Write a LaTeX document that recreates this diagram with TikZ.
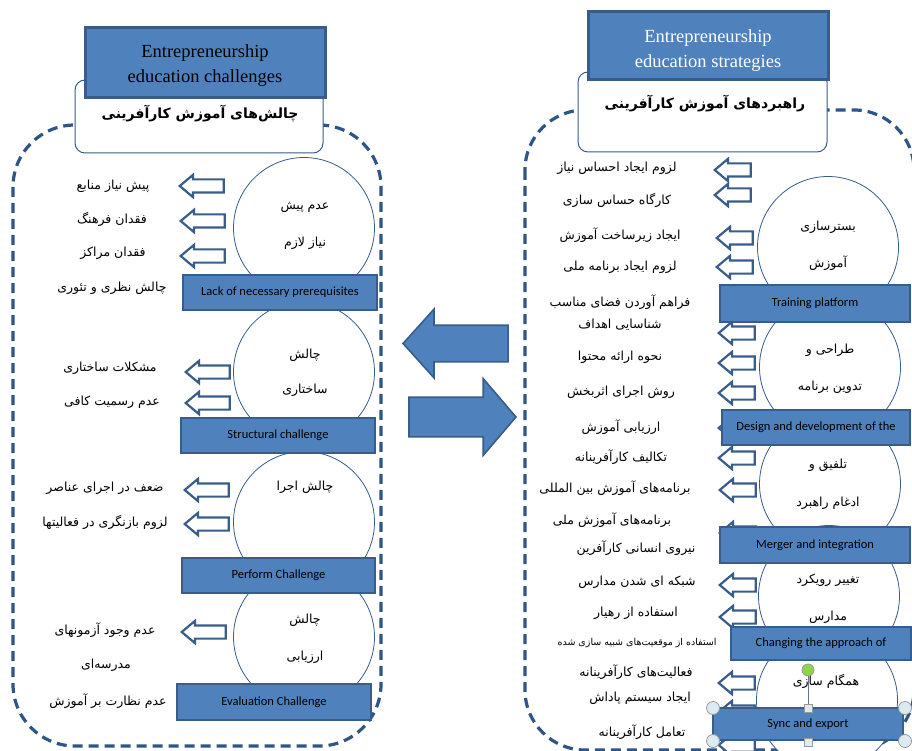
\documentclass[tikz,border=0pt]{standalone}
\usepackage{fontspec}
\setmainfont{Liberation Serif}
\newfontfamily\fafont[Script=Arabic]{DejaVu Sans}
\newfontfamily\calfont{Carlito}
\TeXXeTstate=1
\usetikzlibrary{shapes.arrows,shapes.geometric}
\definecolor{midblue}{HTML}{4F81BD}
\definecolor{dkblue}{HTML}{385D8A}
\definecolor{dashblue}{HTML}{2F5486}
\definecolor{hdlfill}{HTML}{DDEAF2}
\definecolor{hdlgreen}{HTML}{8ED44A}
\begin{document}
\begin{tikzpicture}[x=1pt,y=-1pt,
  panel/.style={draw=dashblue, line width=3.2pt, dash pattern=on 10pt off 6pt},
  circ/.style={circle, draw=dkblue, line width=0.8pt, fill=white, minimum size=141pt, inner sep=0pt},
  bluebox/.style={rectangle, draw=dkblue, line width=2pt, fill=midblue, inner sep=0pt, font=\calfont\fontsize{12.5}{14}\selectfont},
  titlebox/.style={rectangle, draw=dkblue, line width=3pt, fill=midblue, inner sep=0pt},
  titletext/.style={align=center, inner sep=0pt, font=\fontsize{18.5}{25}\selectfont},
  hbox/.style={rectangle, rounded corners=10pt, draw=dkblue, line width=1pt, fill=white, inner sep=0pt},
  sarrow/.style={single arrow, draw=dkblue, line width=2.2pt, fill=white, minimum height=36pt, single arrow head extend=4.5pt, single arrow tip angle=80, inner xsep=0pt, inner ysep=5.5pt, shape border rotate=180, anchor=tip},
  larrow/.style={sarrow, minimum height=44pt},
  bigarrow/.style={single arrow, draw=dkblue, line width=1.6pt, fill=midblue, inner xsep=0pt, anchor=tip},
  ptext/.style={font=\fafont\fontsize{12.5}{14}\selectfont, inner sep=0pt},
  htitle/.style={font=\fafont\bfseries\fontsize{14}{16}\selectfont, inner sep=0pt},
  handle/.style={circle, draw=gray!80, line width=0.8pt, fill=hdlfill, minimum size=13pt, inner sep=0pt},
  sqhandle/.style={rectangle, draw=gray!80, line width=0.8pt, fill=hdlfill, minimum size=8pt, inner sep=0pt}
]
\useasboundingbox (0,0) rectangle (912,751);
\clip (0,0) rectangle (912,751);
\fill[white] (0,0) rectangle (912,751);

% dashed panels
\draw[panel, rounded corners=62pt] (13,125) rectangle (381,746);
\draw[panel, rounded corners=60pt] (525,110) rectangle (914,750);

% header boxes
\node[hbox, minimum width=248pt, minimum height=73pt] (lhead) at (199,116.5) {};
\node[htitle] (lheadt) at (200,114) {\beginR چالش‌های آموزش کارآفرینی\endR};
\node[titlebox, minimum width=240pt, minimum height=70pt] (ltitle) at (205,63) {};
\node[titletext] (ltitlet) at (205,66) {Entrepreneurship\\education challenges};

\node[hbox, minimum width=249pt, minimum height=80pt] (rhead) at (702.5,112) {};
\node[htitle] (rheadt) at (705,104) {\beginR راهبردهای آموزش کارآفرینی\endR};
\node[titlebox, minimum width=240pt, minimum height=68pt] (rtitle) at (708,46) {};
\node[titletext, text=white] (rtitlet) at (708,51) {Entrepreneurship\\education strategies};

% big arrows
\node[bigarrow, shape border rotate=180, minimum height=105pt, inner ysep=17.5pt, single arrow head extend=16pt, single arrow tip angle=96] (bigL) at (402,343.5) {};
\node[bigarrow, minimum height=107pt, inner ysep=19pt, single arrow head extend=18.5pt, single arrow tip angle=99] (bigR) at (517,417) {};

% left circles
\node[circ] (lc1) at (304,228) {};
\node[circ] (lc2) at (304,372) {};
\node[circ] (lc3) at (304,522) {};
\node[circ] (lc4) at (304,637) {};

% right circles
\node[circ] (rc1) at (828,247) {};
\node[circ] (rc2) at (830,367) {};
\node[circ] (rc3) at (830,484) {};
\node[circ] (rc4) at (829,596) {};
\node[circ] (rc5) at (827,700) {};

% left small arrows
\node[larrow] (la1) at (178,186) {};
\node[larrow] (la2) at (179,221) {};
\node[larrow] (la3) at (179,256) {};
\node[larrow] (la4) at (184,372) {};
\node[larrow] (la5) at (184,403) {};
\node[larrow] (la6) at (183,490) {};
\node[larrow] (la7) at (183,524) {};
\node[larrow] (la8) at (180,632) {};

% right small arrows
\node[sarrow] (ra1) at (713,170) {};
\node[sarrow] (ra2) at (713,195) {};
\node[sarrow] (ra3) at (715,238) {};
\node[sarrow] (ra4) at (715,267) {};
\node[sarrow] (ra5) at (717,333) {};
\node[sarrow] (ra6) at (717,363) {};
\node[sarrow] (ra7) at (717,393) {};
\node[sarrow] (ra8) at (717,428) {};
\node[sarrow] (ra9) at (717,458) {};
\node[sarrow] (ra10) at (718,490) {};
\node[sarrow] (ra11) at (718,533) {};
\node[sarrow] (ra12) at (718,585) {};
\node[sarrow] (ra13) at (718,617) {};
\node[sarrow] (ra14) at (717,683) {};
\node[sarrow] (ra15) at (717,712) {};
\node[sarrow] (ra16) at (717,745) {};

% left blue boxes
\node[bluebox, minimum width=194pt, minimum height=35pt] (lb1) at (280,292.5) {Lack of necessary prerequisites};
\node[bluebox, minimum width=194pt, minimum height=35pt] (lb2) at (278,435.5) {Structural challenge};
\node[bluebox, minimum width=193pt, minimum height=35pt] (lb3) at (278.5,575.5) {Perform Challenge};
\node[bluebox, minimum width=194pt, minimum height=36pt] (lb4) at (274,702) {Evaluation Challenge};

% right blue boxes
\node[bluebox, minimum width=190pt, minimum height=37pt] (rb1) at (815,303.5) {Training platform};
\node[bluebox, minimum width=188pt, minimum height=35pt] (rb2) at (816,427.5) {Design and development of the};
\node[bluebox, minimum width=190pt, minimum height=36pt] (rb3) at (815,545) {Merger and integration};
\node[bluebox, minimum width=180pt, minimum height=33pt] (rb4) at (821,643.5) {Changing the approach of};
\node[bluebox, minimum width=190pt, minimum height=32pt] (rb5) at (808,724) {Sync and export};

% left circle texts
\node[ptext] (lct1) at (305,207) {\beginR عدم پیش\endR};
\node[ptext] (lct2) at (305,243) {\beginR نیاز لازم\endR};
\node[ptext] (lct3) at (305,355) {\beginR چالش\endR};
\node[ptext] (lct4) at (305,390) {\beginR ساختاری\endR};
\node[ptext] (lct5) at (305,487) {\beginR چالش اجرا\endR};
\node[ptext] (lct6) at (305,620) {\beginR چالش\endR};
\node[ptext] (lct7) at (305,657) {\beginR ارزیابی\endR};

% right circle texts
\node[ptext] (rct1) at (828,227) {\beginR بسترسازی\endR};
\node[ptext] (rct2) at (828,263) {\beginR آموزش\endR};
\node[ptext] (rct3) at (830,350) {\beginR طراحی و\endR};
\node[ptext] (rct4) at (830,387) {\beginR تدوین برنامه\endR};
\node[ptext] (rct5) at (828,465) {\beginR تلفیق و\endR};
\node[ptext] (rct6) at (828,503) {\beginR ادغام راهبرد\endR};
\node[ptext] (rct7) at (828,580) {\beginR تغییر رویکرد\endR};
\node[ptext] (rct8) at (828,617) {\beginR مدارس\endR};
\node[ptext] (rct9) at (826,681) {\beginR همگام سازی\endR};

% left texts
\node[ptext] (lt1) at (113,186) {\beginR پیش نیاز منابع\endR};
\node[ptext] (lt2) at (112,219) {\beginR فقدان فرهنگ\endR};
\node[ptext] (lt3) at (113,253) {\beginR فقدان مراکز\endR};
\node[ptext] (lt4) at (112,288) {\beginR چالش نظری و تئوری\endR};
\node[ptext] (lt5) at (110,368) {\beginR مشکلات ساختاری\endR};
\node[ptext] (lt6) at (112,402) {\beginR عدم رسمیت کافی\endR};
\node[ptext] (lt7) at (105,488) {\beginR ضعف در اجرای عناصر\endR};
\node[ptext] (lt8) at (105,522) {\beginR لزوم بازنگری در فعالیتها\endR};
\node[ptext] (lt9) at (105,630) {\beginR عدم وجود آزمونهای\endR};
\node[ptext] (lt10) at (106,665) {\beginR مدرسه‌ای\endR};
\node[ptext] (lt11) at (108,701) {\beginR عدم نظارت بر آموزش\endR};

% right texts
\node[ptext] (rt1) at (617,168) {\beginR لزوم ایجاد احساس نیاز\endR};
\node[ptext] (rt2) at (617,200) {\beginR کارگاه حساس سازی\endR};
\node[ptext] (rt3) at (620,235) {\beginR ایجاد زیرساخت آموزش\endR};
\node[ptext] (rt4) at (620,267) {\beginR لزوم ایجاد برنامه ملی\endR};
\node[ptext] (rt5) at (620,302) {\beginR فراهم آوردن فضای مناسب\endR};
\node[ptext] (rt6) at (620,325) {\beginR شناسایی اهداف\endR};
\node[ptext] (rt7) at (620,357) {\beginR نحوه ارائه محتوا\endR};
\node[ptext] (rt8) at (621,392) {\beginR روش اجرای اثربخش\endR};
\node[ptext] (rt9) at (621,427) {\beginR ارزیابی آموزش\endR};
\node[ptext] (rt10) at (621,457) {\beginR تکالیف کارآفرینانه\endR};
\node[ptext] (rt11) at (615,488) {\beginR برنامه‌های آموزش بین المللی\endR};
\node[ptext] (rt12) at (612,520) {\beginR برنامه‌های آموزش ملی\endR};
\node[ptext] (rt13) at (636,548) {\beginR نیروی انسانی کارآفرین\endR};
\node[ptext] (rt14) at (637,582) {\beginR شبکه ای شدن مدارس\endR};
\node[ptext] (rt15) at (636,613) {\beginR استفاده از رهیار\endR};
\node[ptext, font=\fafont\fontsize{9.5}{11}\selectfont] (rt16) at (637,643) {\beginR استفاده از موقعیت‌های شبیه سازی شده\endR};
\node[ptext] (rt17) at (636,672) {\beginR فعالیت‌های کارآفرینانه\endR};
\node[ptext] (rt18) at (640,698) {\beginR ایجاد سیستم پاداش\endR};
\node[ptext] (rt19) at (642,732) {\beginR تعامل کارآفرینانه\endR};

% selection handles
\node[sqhandle] (hmt) at (808,708) {};
\node[sqhandle] (hmb) at (808,742) {};
\node[circle, draw=gray!80, line width=0.8pt, fill=hdlgreen, minimum size=12pt, inner sep=0pt] (hrot) at (808,670) {};
\draw[gray!70!dkblue, line width=0.8pt] (hrot) -- (hmt);
\node[handle] (h1) at (713,708) {};
\node[handle] (h2) at (905,708) {};
\node[handle] (h3) at (713,741) {};
\node[handle] (h4) at (905,741) {};
\end{tikzpicture}
\end{document}
